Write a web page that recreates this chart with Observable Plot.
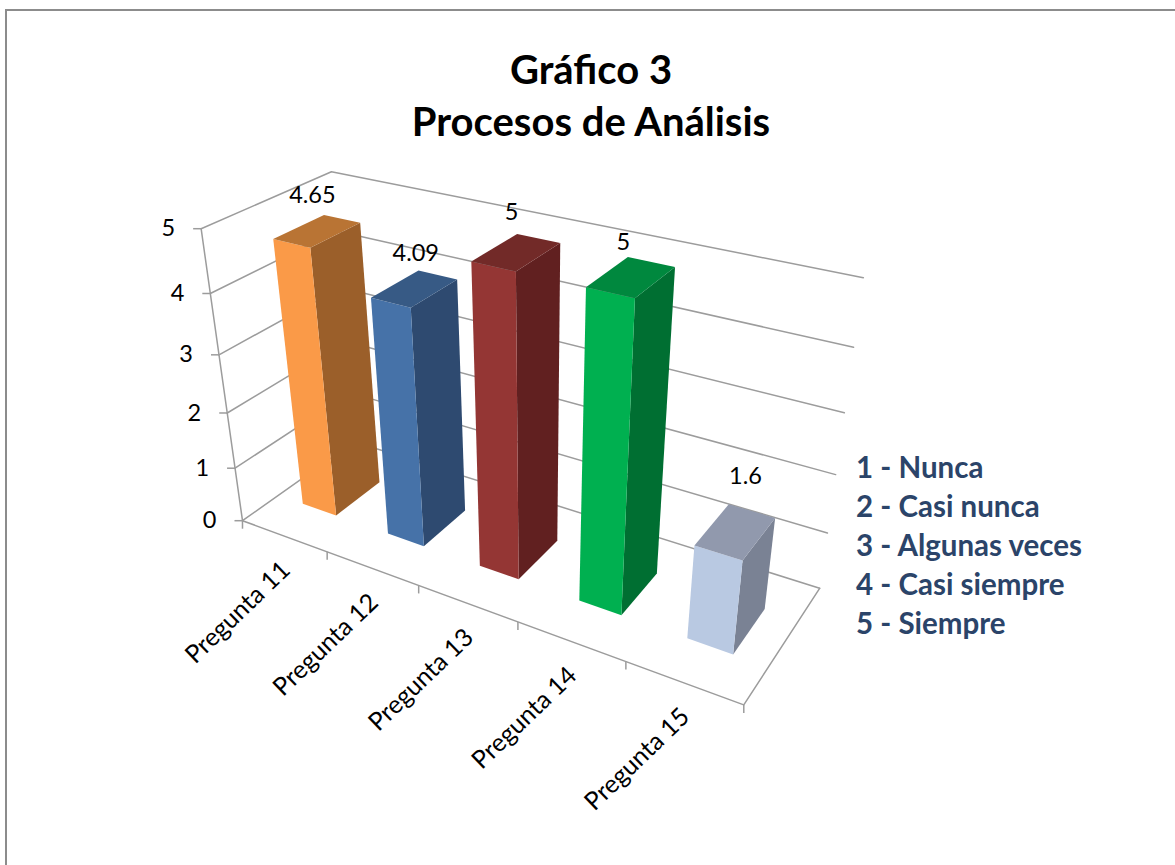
<!DOCTYPE html>
<html><head><meta charset="utf-8">
<script src="https://cdn.jsdelivr.net/npm/d3@7"></script>
<script src="https://cdn.jsdelivr.net/npm/@observablehq/plot@0.6"></script>
<style>
html,body{margin:0;padding:0;background:#fff;overflow:hidden}
#page{position:relative;width:1175px;height:865px;overflow:hidden;font-family:Lato,"Open Sans",sans-serif}
#frame{position:absolute;left:5px;top:9px;width:1200px;height:900px;border-top:2px solid #8c8c8c;border-left:2px solid #8c8c8c;box-sizing:border-box}
#title{position:absolute;left:6px;width:1170px;top:44px;text-align:center;font-weight:700;font-size:40px;line-height:51.5px;color:#000}
#legend{position:absolute;left:856px;top:447px;font-weight:700;font-size:29.5px;line-height:39px;color:#2b4469;white-space:nowrap}
svg{position:absolute;left:0;top:0}
</style></head><body>
<div id="page"><div id="frame"></div><div id="chart"></div>
<div id="title">Gráfico 3<br>Procesos de Análisis</div><div id="legend"></div></div>
<script>
// ---- data
const categories = ["Pregunta 11","Pregunta 12","Pregunta 13","Pregunta 14","Pregunta 15"];
const values = [4.65,4.09,5,5,1.6];
const valueLabels = ["4.65","4.09","5","5","1.6"];
const yTicks = [0,1,2,3,4,5];
const legendLines = ["1 - Nunca","2 - Casi nunca","3 - Algunas veces","4 - Casi siempre","5 - Siempre"];
const frontColors = ["#fa9a48","#4672a8","#943634","#00b050","#b9c9e2"];
const sideColors  = ["#9b5f2a","#2e4a70","#612020","#006f32","#7a8294"];
const topColors   = ["#b97434","#375a85","#722a28","#00883e","#9199ad"];

// ---- camera of the 3D view: (category, value, depth) -> page position, fitted to the picture's axes
const calib = [
 [0,0,0,242,520],[0,1,0,235,467],[0,2,0,228,412],[0,3,0,219,353],[0,4,0,210,293],[0,5,0,200,228],
 [1,0,0,326,552],[2,0,0,418,587],[3,0,0,517,622],[4,0,0,625,662],[5,0,0,743,703],
 [5,0,1,819,587],[5,1,1,827,532],[5,2,1,836,474],[5,3,1,844,412],[5,4,1,853,347],[5,5,1,863,278],
 [0,5,1,330,172]
];
function fitCamera(pts){
  const A=Array.from({length:11},()=>new Array(12).fill(0));
  const add=(r,b)=>{for(let i=0;i<11;i++){for(let j=0;j<11;j++)A[i][j]+=r[i]*r[j];A[i][11]+=r[i]*b;}};
  for(const [X,Y,Z,px,py] of pts){const x=px/1000,y=py/1000;
    add([X,Y,Z,1,0,0,0,0,-x*X,-x*Y,-x*Z],x);
    add([0,0,0,0,X,Y,Z,1,-y*X,-y*Y,-y*Z],y);}
  for(let c=0;c<11;c++){let m=c;for(let r=c+1;r<11;r++)if(Math.abs(A[r][c])>Math.abs(A[m][c]))m=r;
    [A[c],A[m]]=[A[m],A[c]];
    for(let r=0;r<11;r++)if(r!==c){const f=A[r][c]/A[c][c];for(let k=c;k<12;k++)A[r][k]-=f*A[c][k];}}
  return A.map((r,i)=>r[11]/r[i]);
}
const P=fitCamera(calib);
const project=(u,v,w)=>{const d=P[8]*u+P[9]*v+P[10]*w+1;
  return {x:1000*(P[0]*u+P[1]*v+P[2]*w+P[3])/d,y:1000*(P[4]*u+P[5]*v+P[6]*w+P[7])/d};};

const inset=0.3, depthFront=0.3, depthBack=0.7;

// ---- faces
const faces=[];
values.forEach((val,i)=>{
  const a=i+inset,b=i+1-inset,f=depthFront,k=depthBack;
  const poly=(name,color,pts)=>pts.forEach(p=>faces.push({face:i+name,color,...project(...p)}));
  poly("side",sideColors[i],[[b,0,f],[b,0,k],[b,val,k],[b,val,f]]);
  poly("front",frontColors[i],[[a,0,f],[b,0,f],[b,val,f],[a,val,f]]);
  poly("top",topColors[i],[[a,val,f],[b,val,f],[b,val,k],[a,val,k]]);
});
// ---- grid and axes
const grid=[];
const seg=(id,pts)=>pts.forEach(p=>grid.push({id,...project(...p)}));
yTicks.forEach(v=>seg("g"+v,[[0,v,0],[0,v,1],[5,v,1]]));
seg("yaxis",[[0,0,0],[0,5,0]]);
seg("floor",[[0,0,0],[5,0,0],[5,0,1]]);
const yTickRows=yTicks.map(v=>{const p=project(0,v,0);return {x1:p.x-8,x2:p.x,y:p.y,label:String(v)};});
const xTickRows=d3.range(6).map(u=>{const p=project(u,0,0);return {x:p.x,y1:p.y,y2:p.y+8};});
const labelNudge=[[-5,-35],[1,-35],[-5,-40],[-8,-34],[10,-55]];
const valueRows=values.map((val,i)=>{const p=project(i+.5,val,.5);
  return {x:p.x+labelNudge[i][0],y:p.y+labelNudge[i][1],t:valueLabels[i]};});
const catRows=categories.map((c,i)=>{const p=project(i+.5,0,0);return {x:p.x+2,y:p.y+30,t:c};});

const plot=Plot.plot({
  width:1175,height:865,margin:0,
  x:{type:"identity",axis:null},y:{type:"identity",axis:null},color:{type:"identity"},
  style:{background:"transparent",fontFamily:"Lato,'Open Sans',sans-serif"},
  marks:[
    Plot.line(grid,{x:"x",y:"y",z:"id",stroke:"#9c9c9c",strokeWidth:1.5}),
    Plot.link(yTickRows,{x1:"x1",x2:"x2",y1:"y",y2:"y",stroke:"#9c9c9c",strokeWidth:1.5}),
    Plot.link(xTickRows,{x1:"x",x2:"x",y1:"y1",y2:"y2",stroke:"#9c9c9c",strokeWidth:1.5}),
    Plot.line(faces,{x:"x",y:"y",z:"face",fill:"color",stroke:null}),
    Plot.text(yTickRows,{x:d=>d.x1-18,y:"y",text:"label",textAnchor:"end",fontSize:23.5,fill:"#000"}),
    Plot.text(valueRows,{x:"x",y:"y",text:"t",fontSize:23.5,fill:"#000"}),
    Plot.text(catRows,{x:"x",y:"y",text:"t",textAnchor:"end",rotate:-44,fontSize:25,fill:"#000"})
  ]
});
document.getElementById("chart").appendChild(plot);
document.getElementById("legend").innerHTML=legendLines.join("<br>");
</script></body></html>
